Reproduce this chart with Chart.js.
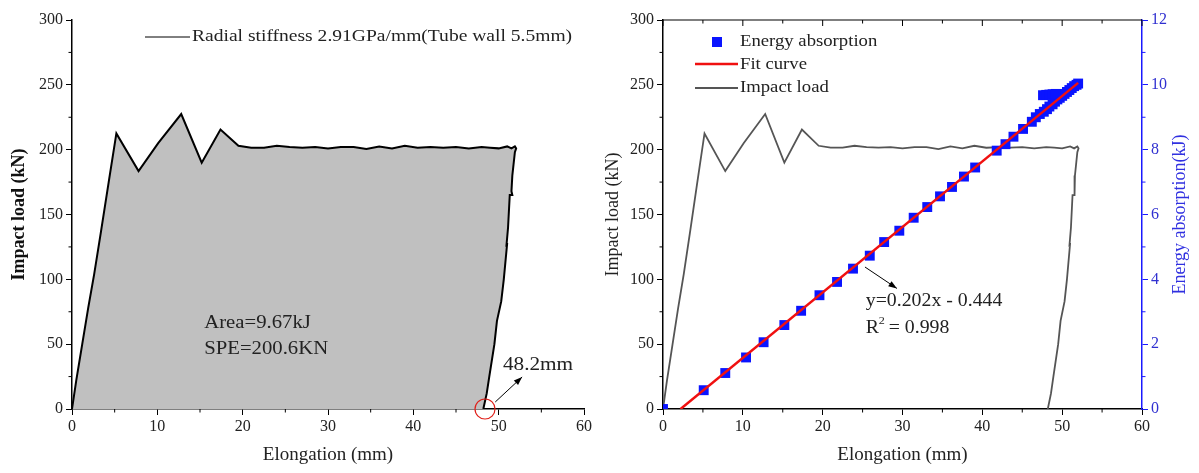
<!DOCTYPE html>
<html lang="en">
<head>
    <meta charset="UTF-8">
    <title>Impact load and energy absorption</title>
    <script src="https://cdn.jsdelivr.net/npm/chart.js"></script>
    <style>
        body {
            margin: 0;
            padding: 0;
            background: #fff;
        }
        .wrap {
            position: relative;
            width: 1199px;
            height: 473px;
        }
        .box {
            position: absolute;
            top: 0;
            height: 473px;
        }
    </style>
</head>
<body>
<div class="wrap">
    <div class="box" style="left:0;width:600px;"><canvas id="loadChart"></canvas></div>
    <div class="box" style="left:600px;width:599px;"><canvas id="energyChart"></canvas></div>
</div>
<script>
    // impact load vs elongation
    const loadX = [0, 0.5, 1.2, 1.9, 2.6, 3.4, 4.3, 5.2, 7.8, 10.1, 12.8, 15.2, 17.4, 19.5,
        21, 22.5, 24, 25.5, 27, 28.5, 30, 31.5, 33, 34.5, 36, 37.5, 39, 40.5, 42, 43.5,
        45, 46.5, 48, 49, 50, 51, 51.5, 51.9, 52.05, 51.9, 51.6, 51.5, 51.6, 51.3, 51.1,
        50.9, 51.0, 50.6, 50.3, 49.8, 49.5, 48.9, 48.6, 48.2];
    const loadY = [0, 22, 50, 78, 104, 137, 175, 212.5, 183.5, 205, 227.5, 190, 215.5, 203,
        201.5, 201.5, 203, 202, 201.5, 202, 201, 202, 202, 200.5, 202.5, 201, 203, 201.5,
        202, 201.5, 202, 201, 202, 201.5, 201, 202.5, 201, 202.5, 201, 198, 180, 168,
        165, 165, 140, 125, 128, 100, 83, 68, 50, 25, 12, 0];

    // energy absorption (kJ) vs elongation
    const energyX = [0, 5.1, 7.8, 10.4, 12.6, 15.2, 17.3, 19.6, 21.8, 23.8, 25.9, 27.7,
        29.6, 31.4, 33.1, 34.7, 36.2, 37.7, 39.1, 41.8, 42.9, 43.9, 45.1, 46.2, 46.7,
        47.2, 47.7, 48.1, 48.4, 48.8, 49.1, 49.4, 49.7, 50.0, 50.3, 50.6, 50.9, 51.2,
        51.5, 51.8, 52.0, 47.6, 48.0, 48.4, 48.8, 49.2];
    const energyY = [0, 0.58, 1.11, 1.59, 2.06, 2.59, 3.03, 3.51, 3.92, 4.33, 4.73, 5.15,
        5.5, 5.9, 6.23, 6.56, 6.85, 7.17, 7.45, 7.97, 8.17, 8.4, 8.64, 8.86, 9.0,
        9.1, 9.17, 9.25, 9.33, 9.4, 9.48, 9.55, 9.6, 9.66, 9.72, 9.78, 9.84, 9.9,
        9.96, 10.0, 10.04, 9.68, 9.69, 9.7, 9.71, 9.72];

    // linear fit y = 0.202x - 0.444, end points
    const fitX = [2.2, 52];
    const fitY = [0, 10.06];

    const xTicks = [0, 10, 20, 30, 40, 50, 60];
    const loadTicks = [0, 50, 100, 150, 200, 250, 300];
    const energyTicks = [0, 2, 4, 6, 8, 10, 12];

    const pts = (xs, ys) => xs.map((x, i) => ({ x: x, y: ys[i] }));

    const FONT = '"Liberation Serif", "Times New Roman", serif';
    Chart.defaults.font.family = FONT;
    Chart.defaults.animation = false;

    // text a bit wider, like the original figure
    function wideText(ctx, txt, x, y, size, sx) {
        ctx.save();
        ctx.font = size + 'px ' + FONT;
        ctx.translate(x, y);
        ctx.scale(sx || 1.15, 1);
        ctx.fillText(txt, 0, 0);
        ctx.restore();
    }

    // grey area under the load curve (polygon through the dataset's own points)
    const areaFill = {
        id: 'areaFill',
        beforeDatasetsDraw(chart, args, o) {
            if (!o.color) return;
            const pts = chart.getDatasetMeta(0).data;
            const ctx = chart.ctx;
            ctx.save();
            ctx.fillStyle = o.color;
            ctx.beginPath();
            pts.forEach((p, i) => i ? ctx.lineTo(p.x, p.y) : ctx.moveTo(p.x, p.y));
            ctx.closePath();
            ctx.fill();
            ctx.restore();
        }
    };

    // minor ticks, top frame, annotations
    const extras = {
        id: 'extras',
        afterDraw(chart, args, o) {
            const ctx = chart.ctx;
            const a = chart.chartArea;
            ctx.save();
            (o.minor || []).forEach(m => {
                const s = chart.scales[m.id];
                ctx.strokeStyle = m.color;
                ctx.lineWidth = 1;
                for (let v = s.min; v <= s.max + 1e-9; v += m.step) {
                    const major = Math.abs(v / m.major - Math.round(v / m.major)) < 1e-6;
                    if (major && !m.all) continue;
                    const len = major ? 6 : 3.5;
                    const p = s.getPixelForValue(v);
                    ctx.beginPath();
                    if (m.side === 'bottom') { ctx.moveTo(p, a.bottom); ctx.lineTo(p, a.bottom + len); }
                    if (m.side === 'top') { ctx.moveTo(p, a.top); ctx.lineTo(p, a.top + len); }
                    if (m.side === 'left') { ctx.moveTo(a.left, p); ctx.lineTo(a.left - len, p); }
                    if (m.side === 'right') { ctx.moveTo(a.right, p); ctx.lineTo(a.right + len, p); }
                    ctx.stroke();
                }
            });
            if (o.topFrame) {
                ctx.strokeStyle = '#000';
                ctx.lineWidth = 1.2;
                ctx.beginPath();
                ctx.moveTo(a.left, a.top);
                ctx.lineTo(a.right, a.top);
                ctx.stroke();
            }
            if (o.draw) o.draw(chart, ctx, a);
            ctx.restore();
        }
    };

    function arrow(ctx, x1, y1, x2, y2) {
        const ang = Math.atan2(y2 - y1, x2 - x1);
        ctx.strokeStyle = '#000';
        ctx.fillStyle = '#000';
        ctx.lineWidth = 1;
        ctx.beginPath();
        ctx.moveTo(x1, y1);
        ctx.lineTo(x2, y2);
        ctx.stroke();
        ctx.beginPath();
        ctx.moveTo(x2, y2);
        ctx.lineTo(x2 - 9 * Math.cos(ang - 0.35), y2 - 9 * Math.sin(ang - 0.35));
        ctx.lineTo(x2 - 9 * Math.cos(ang + 0.35), y2 - 9 * Math.sin(ang + 0.35));
        ctx.closePath();
        ctx.fill();
    }

    const tickFont = { family: FONT, size: 16 };
    const titleFont = { family: FONT, size: 19 };

    function xScale() {
        return {
            type: 'linear',
            min: 0, max: 60,
            afterBuildTicks: s => { s.ticks = xTicks.map(v => ({ value: v })); },
            afterFit: s => { s.height = 64; },
            grid: { drawOnChartArea: false, tickLength: 6, color: '#000' },
            border: { color: '#000', width: 1.5 },
            ticks: { font: tickFont, color: '#222', padding: 2, maxRotation: 0 },
            title: { display: true, text: 'Elongation (mm)', font: titleFont, color: '#222', padding: { top: 0, bottom: 7 } }
        };
    }

    // left chart
    new Chart(document.getElementById('loadChart'), {
        type: 'line',
        data: {
            datasets: [{
                label: 'Radial stiffness 2.91GPa/mm(Tube wall 5.5mm)',
                data: pts(loadX, loadY),
                borderColor: '#000',
                borderWidth: 2,
                pointRadius: 0,
                fill: false,
                tension: 0
            }]
        },
        options: {
            responsive: true,
            maintainAspectRatio: false,
            layout: { padding: { top: 20, right: 16, left: 0, bottom: 0 } },
            plugins: {
                legend: { display: false },
                tooltip: { enabled: false },
                areaFill: { color: '#c0c0c0' },
                extras: {
                    minor: [
                        { id: 'x', side: 'bottom', step: 5, major: 10, color: '#000' },
                        { id: 'y', side: 'left', step: 25, major: 50, color: '#000' }
                    ],
                    draw(chart, ctx, a) {
                        const xs = chart.scales.x, ys = chart.scales.y;
                        // legend
                        ctx.strokeStyle = '#000';
                        ctx.lineWidth = 1;
                        ctx.beginPath();
                        ctx.moveTo(a.left + 73, a.top + 17);
                        ctx.lineTo(a.left + 118, a.top + 17);
                        ctx.stroke();
                        ctx.fillStyle = '#222';
                        ctx.textBaseline = 'middle';
                        wideText(ctx, 'Radial stiffness 2.91GPa/mm(Tube wall 5.5mm)', a.left + 120, a.top + 17, 17, 1.15);
                        // notes
                        wideText(ctx, 'Area=9.67kJ', xs.getPixelForValue(15.5), ys.getPixelForValue(66), 18, 1.15);
                        wideText(ctx, 'SPE=200.6KN', xs.getPixelForValue(15.5), ys.getPixelForValue(46), 18, 1.15);
                        wideText(ctx, '48.2mm', xs.getPixelForValue(50.5), ys.getPixelForValue(34), 18, 1.18);
                        // circle + arrow
                        ctx.strokeStyle = '#e0201a';
                        ctx.lineWidth = 1.2;
                        ctx.beginPath();
                        ctx.arc(xs.getPixelForValue(48.4), ys.getPixelForValue(0), 10, 0, Math.PI * 2);
                        ctx.stroke();
                        arrow(ctx, xs.getPixelForValue(49.6), ys.getPixelForValue(5.4),
                            xs.getPixelForValue(52.75), ys.getPixelForValue(24.7));
                    }
                }
            },
            scales: {
                x: xScale(),
                y: {
                    type: 'linear',
                    min: 0, max: 300,
                    afterBuildTicks: s => { s.ticks = loadTicks.map(v => ({ value: v })); },
                    afterFit: s => { s.width = 72; },
                    grid: { drawOnChartArea: false, tickLength: 6, color: '#000' },
                    border: { color: '#000', width: 1.5 },
                    ticks: { font: tickFont, color: '#222', padding: 3 },
                    title: { display: true, text: 'Impact load (kN)', font: { family: FONT, size: 18, weight: 'bold' }, color: '#111', padding: { top: 9, bottom: 0 } }
                }
            }
        },
        plugins: [areaFill, extras]
    });

    // right chart
    new Chart(document.getElementById('energyChart'), {
        type: 'line',
        data: {
            datasets: [{
                label: 'Impact load',
                data: pts(loadX, loadY),
                yAxisID: 'y',
                borderColor: '#555',
                borderWidth: 1.8,
                pointRadius: 0,
                fill: false,
                order: 3
            }, {
                label: 'Energy absorption',
                data: pts(energyX, energyY),
                yAxisID: 'y2',
                showLine: false,
                pointStyle: 'rect',
                pointRadius: 7,
                backgroundColor: '#0a14ff',
                borderColor: '#0a14ff',
                borderWidth: 0,
                order: 2
            }, {
                label: 'Fit curve',
                data: pts(fitX, fitY),
                yAxisID: 'y2',
                borderColor: '#f01010',
                borderWidth: 2.5,
                pointRadius: 0,
                order: 1
            }]
        },
        options: {
            responsive: true,
            maintainAspectRatio: false,
            layout: { padding: { top: 20, right: 0, left: 0, bottom: 0 } },
            plugins: {
                legend: { display: false },
                tooltip: { enabled: false },
                extras: {
                    topFrame: true,
                    minor: [
                        { id: 'x', side: 'bottom', step: 5, major: 10, color: '#000' },
                        { id: 'x', side: 'top', step: 5, major: 10, color: '#000', all: true },
                        { id: 'y', side: 'left', step: 25, major: 50, color: '#000' },
                        { id: 'y2', side: 'right', step: 1, major: 2, color: '#1a1aff' }
                    ],
                    draw(chart, ctx, a) {
                        const xs = chart.scales.x, ys = chart.scales.y;
                        ctx.textBaseline = 'middle';
                        ctx.fillStyle = '#0a14ff';
                        ctx.fillRect(a.left + 49, a.top + 17, 10, 10);
                        ctx.lineWidth = 2.5;
                        ctx.strokeStyle = '#f01010';
                        ctx.beginPath();
                        ctx.moveTo(a.left + 32, a.top + 44);
                        ctx.lineTo(a.left + 75, a.top + 44);
                        ctx.stroke();
                        ctx.lineWidth = 2;
                        ctx.strokeStyle = '#555';
                        ctx.beginPath();
                        ctx.moveTo(a.left + 32, a.top + 68);
                        ctx.lineTo(a.left + 75, a.top + 68);
                        ctx.stroke();
                        ctx.fillStyle = '#222';
                        wideText(ctx, 'Energy absorption', a.left + 77, a.top + 22, 17, 1.1);
                        wideText(ctx, 'Fit curve', a.left + 77, a.top + 45, 17, 1.1);
                        wideText(ctx, 'Impact load', a.left + 77, a.top + 68, 17, 1.1);
                        // fit equation
                        const tx = xs.getPixelForValue(25.4);
                        wideText(ctx, 'y=0.202x - 0.444', tx, ys.getPixelForValue(83), 18, 1.1);
                        wideText(ctx, 'R', tx, ys.getPixelForValue(62), 18, 1.1);
                        wideText(ctx, '2', tx + 13, ys.getPixelForValue(68), 11, 1.1);
                        wideText(ctx, ' = 0.998', tx + 18, ys.getPixelForValue(62), 18, 1.1);
                        arrow(ctx, xs.getPixelForValue(25.3), ys.getPixelForValue(109.5),
                            xs.getPixelForValue(29.3), ys.getPixelForValue(93));
                        // right axis title, reading bottom to top
                        ctx.save();
                        ctx.translate(chart.width - 19, (a.top + a.bottom) / 2);
                        ctx.rotate(-Math.PI / 2);
                        ctx.textAlign = 'center';
                        ctx.fillStyle = '#3030e0';
                        ctx.font = '18px ' + FONT;
                        ctx.fillText('Energy absorption(kJ)', 0, 0);
                        ctx.restore();
                    }
                }
            },
            scales: {
                x: xScale(),
                y: {
                    type: 'linear',
                    position: 'left',
                    min: 0, max: 300,
                    afterBuildTicks: s => { s.ticks = loadTicks.map(v => ({ value: v })); },
                    afterFit: s => { s.width = 63; },
                    grid: { drawOnChartArea: false, tickLength: 6, color: '#000' },
                    border: { color: '#000', width: 1.5 },
                    ticks: { font: tickFont, color: '#222', padding: 3 },
                    title: { display: true, text: 'Impact load (kN)', font: { family: FONT, size: 18 }, color: '#222', padding: { top: 2, bottom: 0 } }
                },
                y2: {
                    type: 'linear',
                    position: 'right',
                    min: 0, max: 12,
                    afterBuildTicks: s => { s.ticks = energyTicks.map(v => ({ value: v })); },
                    afterFit: s => { s.width = 57; },
                    grid: { drawOnChartArea: false, tickLength: 6, color: '#1a1aff' },
                    border: { color: '#1a1aff', width: 1.5 },
                    ticks: { font: tickFont, color: '#3030d0', padding: 3 }
                }
            }
        },
        plugins: [extras]
    });
</script>
</body>
</html>
